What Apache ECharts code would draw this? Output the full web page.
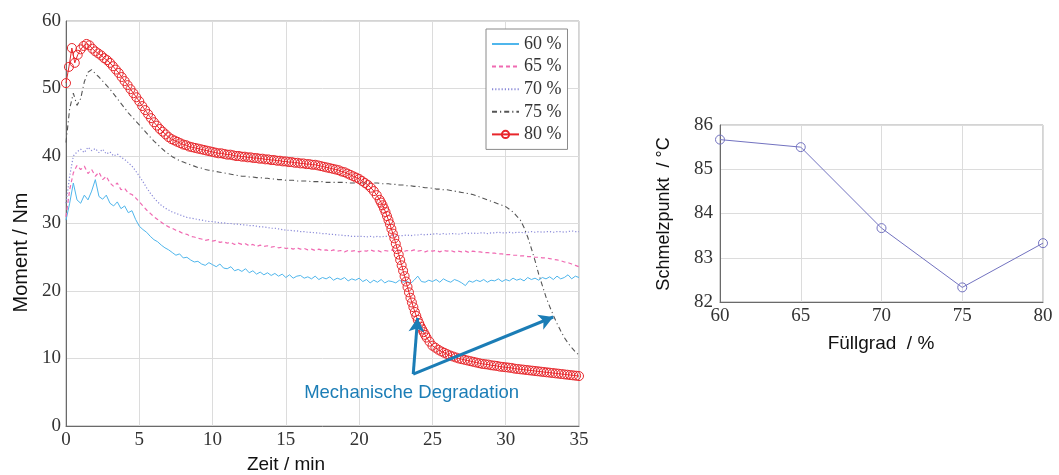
<!DOCTYPE html>
<html>
<head>
<meta charset="utf-8">
<script src="https://cdn.jsdelivr.net/npm/echarts@6/dist/echarts.min.js"></script>
<style>html,body{margin:0;padding:0;background:#fff}#c{width:1059px;height:475px}</style>
</head>
<body>
<div id="c"></div>
<script>
// ---------- Left chart: torque over time ----------
const timeThin = [0,0.25,0.5,0.75,1,1.25,1.5,1.75,2,2.25,2.5,2.75,3,3.25,3.5,3.75,4,4.25,4.5,4.75,5,5.25,5.5,5.75,6,6.25,6.5,6.75,7,7.25,7.5,7.75,8,8.25,8.5,8.75,9,9.25,9.5,9.75,10,10.25,10.5,10.75,11,11.25,11.5,11.75,12,12.25,12.5,12.75,13,13.25,13.5,13.75,14,14.25,14.5,14.75,15,15.25,15.5,15.75,16,16.25,16.5,16.75,17,17.25,17.5,17.75,18,18.25,18.5,18.75,19,19.25,19.5,19.75,20,20.25,20.5,20.75,21,21.25,21.5,21.75,22,22.25,22.5,22.75,23,23.25,23.5,23.75,24,24.25,24.5,24.75,25,25.25,25.5,25.75,26,26.25,26.5,26.75,27,27.25,27.5,27.75,28,28.25,28.5,28.75,29,29.25,29.5,29.75,30,30.25,30.5,30.75,31,31.25,31.5,31.75,32,32.25,32.5,32.75,33,33.25,33.5,33.75,34,34.25,34.5,34.75,35];

const torque60 = [30.5,33,36,33.5, 33,34.2,33.5,34.8, 36.5,34,33.6,34.2, 33,32.6,33.2,32.2, 32.6,31.6,31.9,30.6, 29.6,29.1,28.7,28.1, 27.6,27.3,26.8,26.4, 26.1,25.7,25.3,25.5, 24.9,25,24.6,24.3, 24.4,24,23.8,24.2, 23.9,23.6,24,23.4, 23.3,23.6,23,23.2, 22.9,23.3,22.7,23, 22.5,22.8,22.4,22.7, 22.3,22.6,22.2,22.5, 22,22.4,21.9,22.2, 22.3,21.9,22.1,21.8, 22.2,21.7,22,21.8, 22.1,21.6,21.9,21.7, 22,21.5,21.8,21.6, 21.9,21.4,21.7,21.2, 21.6,21.3,21.7,21.2, 21.5,21.4,21.2,21.6, 21.3,21.5,21.1,21.6, 22.2,21.4,21.3,21.6, 21.4,21.7,21.3,21.8, 21.5,21.3,21.7,21.5, 21.2,20.8,21.5,21.3, 21.6,21.4,21.7,21.3, 21.6,21.5,21.8,21.4, 21.7,21.5,21.9,21.6, 21.8,21.5,22,21.7, 21.9,21.6,22,21.8, 22.1,21.7,22.2,21.8, 22,22.4,21.8,22.2, 22];

const torque65 = [31,35,37.5,38.6, 38,38.5,37.4,38, 37,37.6,36.5,37, 36,35.5,36,35, 35.2,34.5,34.3,33.8, 33.2,32.6,32,31.5, 31,30.6,30.2,29.8, 29.5,29.3,29,28.8, 28.5,28.4,28.1,28, 27.8,27.7,27.5,27.6, 27.4,27.5,27.2,27.3, 27.1,27.2,26.9,27.1, 26.9,27,26.7,26.9, 26.6,26.8,26.6,26.7, 26.5,26.6,26.4,26.5, 26.3,26.4,26.2,26.4, 26.2,26.3,26.1,26.2, 26,26.2,26,26.1, 25.9,26.1,25.9,26, 25.8,26,25.9,26, 25.8,26,25.9,26.1, 25.9,26,25.8,26, 25.9,26.1,25.9,26, 25.8,26,25.9,26.1, 25.9,26,25.8,26, 25.9,26,25.8,26, 25.9,26,25.8,25.9, 25.8,25.9,25.7,25.9, 25.8,25.8,25.7,25.7, 25.6,25.6,25.5,25.5, 25.4,25.4,25.3,25.3, 25.2,25.2,25.1,25.1, 25,25,24.9,24.9, 24.8,24.7,24.6,24.5, 24.3,24.2,24,23.8, 23.6];

const torque70 = [33,37,40,40.6, 41,40.5,41.3,40.8, 41.1,40.5,41,40.3, 40.6,40,40.3,39.8, 39.5,39,38.5,37.8, 37,36.2,35.3,34.5, 33.8,33.2,32.7,32.3, 32,31.7,31.5,31.3, 31.1,30.9,30.8,30.7, 30.6,30.5,30.4,30.3, 30.3,30.2,30.1,30.1, 30,30,29.9,29.9, 29.8,29.8,29.7,29.7, 29.6,29.5,29.5,29.4, 29.3,29.3,29.2,29.1, 29,29,28.9,28.9, 28.8,28.8,28.7,28.7, 28.6,28.6,28.5,28.5, 28.4,28.4,28.3,28.3, 28.2,28.2,28.1,28.1, 28.1,28.1,28,28.1, 28,28.1,28,28.1, 28.1,28.2,28.1,28.2, 28.2,28.3,28.2,28.3, 28.3,28.4,28.3,28.4, 28.4,28.5,28.4,28.5, 28.4,28.5,28.5,28.4, 28.5,28.6,28.5,28.6, 28.5,28.6,28.6,28.5, 28.6,28.6,28.7,28.6, 28.6,28.7,28.6,28.7, 28.7,28.6,28.7,28.8, 28.7,28.8,28.7,28.8, 28.8,28.7,28.8,28.8, 28.7,28.8,28.9,28.8, 28.8];

const torque75 = [42,47,49.3,47.5, 48.5,51,52.4,52.8, 52.2,51.7,51.1,50.5, 49.9,49.2,48.5,47.8, 47.1,46.4,45.8,45.2, 44.6,44,43.4,42.8, 42.2,41.7,41.2,40.7, 40.3,39.9,39.6,39.3, 39.1,38.9,38.7,38.5, 38.3,38.2,38,37.9, 37.8,37.7,37.6,37.5, 37.4,37.3,37.2,37.1, 37,37,36.9,36.9, 36.8,36.8,36.7,36.7, 36.6,36.6,36.5,36.5, 36.4,36.4,36.4,36.3, 36.3,36.3,36.3,36.2, 36.2,36.2,36.2,36.1, 36.1,36.1,36.1,36.1, 36.1,36,36,36, 36,36,36,36, 36,36,35.9,35.9, 35.9,35.8,35.8,35.7, 35.7,35.6,35.6,35.5, 35.5,35.4,35.3,35.3, 35.2,35.1,35.1,35, 35,34.9,34.8,34.7, 34.6,34.5,34.4,34.3, 34.1,33.9,33.7,33.5, 33.3,33.1,32.9,32.7, 32.5,32.1,31.7,31.1, 30.5,29.4,28,26.3, 24.5,22.5,20.8,19.1, 17.7,16.4,15.2,14.1, 13.1,12.3,11.6,11, 10.5];

const timeRed = [0,0.2,0.4,0.6,0.8,1,1.2,1.4,1.6,1.8,2,2.2,2.4,2.6,2.8,3,3.2,3.4,3.6,3.8,4,4.2,4.4,4.6,4.8,5,5.2,5.4,5.6,5.8,6,6.2,6.4,6.6,6.8,7,7.2,7.4,7.6,7.8,8,8.2,8.4,8.6,8.8,9,9.2,9.4,9.6,9.8,10,10.2,10.4,10.6,10.8,11,11.2,11.4,11.6,11.8,12,12.2,12.4,12.6,12.8,13,13.2,13.4,13.6,13.8,14,14.2,14.4,14.6,14.8,15,15.2,15.4,15.6,15.8,16,16.2,16.4,16.6,16.8,17,17.2,17.4,17.6,17.8,18,18.2,18.4,18.6,18.8,19,19.2,19.4,19.6,19.8,20,20.2,20.4,20.6,20.8,21,21.2,21.4,
21.5,21.6,21.7,21.8,21.9,22,22.1,22.2,22.3,22.4,22.5,22.6,22.7,22.8,22.9,23,23.1,23.2,23.3,23.4,23.5,23.6,23.7,23.8,23.9,24,24.1,24.2,24.3,24.4,24.5,
24.6,24.8,25,25.2,25.4,25.6,25.8,26,26.2,26.4,26.6,26.8,27,27.2,27.4,27.6,27.8,28,28.2,28.4,28.6,28.8,29,29.2,29.4,29.6,29.8,30,30.2,30.4,30.6,30.8,31,31.2,31.4,31.6,31.8,32,32.2,32.4,32.6,32.8,33,33.2,33.4,33.6,33.8,34,34.2,34.4,34.6,34.8,35];

const torque80 = [50.8,53.2,56,53.8,55,55.8,56.3,56.6,56.4,55.9,55.5,55.2,54.9,54.5,54.2,53.8,53.3,52.8,52.3,51.7,51.1,50.5,49.9,49.3,48.7,48.1,47.4,46.8,46.2,45.6,45,44.5,44,43.6,43.2,42.8,42.5,42.3,42.1,41.9,41.7,41.6,41.4,41.3,41.2,41.1,41,40.9,40.8,40.7,40.6,40.5,40.4,40.4,40.3,40.2,40.2,40.1,40,40,39.9,39.9,39.8,39.8,39.7,39.7,39.6,39.6,39.5,39.5,39.4,39.4,39.3,39.3,39.2,39.2,39.1,39.1,39,39,38.9,38.9,38.8,38.8,38.7,38.7,38.6,38.5,38.4,38.3,38.2,38.1,38,37.9,37.7,37.6,37.4,37.2,37,36.8,36.6,36.3,36,35.7,35.3,34.8,34.2,33.5,
33.1,32.7,32.2,31.7,31.1,30.5,29.9,29.2,28.5,27.8,27,26.2,25.4,24.6,23.8,23,22.2,21.4,20.6,19.8,19,18.3,17.6,16.9,16.3,15.7,15.2,14.7,14.3,13.9,13.5,
13.1,12.5,11.9,11.6,11.3,11.05,10.85,10.65,10.45,10.3,10.15,10,9.9,9.8,9.7,9.6,9.5,9.4,9.3,9.2,9.15,9.1,9,8.95,8.9,8.8,8.75,8.7,8.65,8.6,8.5,8.45,8.4,8.35,8.3,8.25,8.2,8.15,8.1,8.05,8,7.95,7.9,7.85,7.8,7.75,7.7,7.65,7.6,7.55,7.5,7.45,7.4];

const seriesNames = ['60 %','65 %','70 %','75 %','80 %'];
const leftXTicks = {min:0, max:35, step:5};
const leftYTicks = {min:0, max:60, step:10};

// annotation anchors (data units of left chart)
const arrowOrigin = [23.69, 7.7];
const arrowTip1 = [23.99, 16.0];
const arrowTip2 = [33.24, 16.15];
const annotationPos = [23.58, 4.9];
const annotationText = 'Mechanische Degradation';

// ---------- Right chart: melting point vs. filling degree ----------
const fillDegree = [60,65,70,75,80];
const meltPoint = [85.67,85.5,83.67,82.33,83.33];
const rightXTicks = {min:60, max:80, step:5};
const rightYTicks = {min:82, max:86, step:1};

const SERIF = '"Liberation Serif","DejaVu Serif",serif';
const SANS = '"Liberation Sans",Arial,sans-serif';
const pair = (xs, ys) => xs.map((x,i) => [x, ys[i]]);

const axisCommon = {
  type:'value',
  axisLine:{show:true, onZero:false, lineStyle:{color:'#6a6a6a', width:1}},
  axisTick:{show:false},
  splitLine:{show:true, lineStyle:{color:'#dcdcdc', width:1}},
  axisLabel:{fontFamily:SERIF, fontSize:19, color:'#333'}
};

const hiddenSymbol = {opacity:0};

const chart = echarts.init(document.getElementById('c'));
chart.setOption({
  animation:false,
  backgroundColor:'#ffffff',
  grid:[
    {left:66, top:21, width:513, height:405, show:true, borderColor:'#a8a8a8', borderWidth:1},
    {left:720, top:125, width:323, height:177, show:true, borderColor:'#a8a8a8', borderWidth:1}
  ],
  xAxis:[
    Object.assign({}, axisCommon, {gridIndex:0, min:leftXTicks.min, max:leftXTicks.max, interval:leftXTicks.step,
      axisLabel:Object.assign({}, axisCommon.axisLabel, {margin:5})}),
    Object.assign({}, axisCommon, {gridIndex:1, min:rightXTicks.min, max:rightXTicks.max, interval:rightXTicks.step,
      axisLabel:Object.assign({}, axisCommon.axisLabel, {margin:5})})
  ],
  yAxis:[
    Object.assign({}, axisCommon, {gridIndex:0, min:leftYTicks.min, max:leftYTicks.max, interval:leftYTicks.step,
      axisLabel:Object.assign({}, axisCommon.axisLabel, {margin:5})}),
    Object.assign({}, axisCommon, {gridIndex:1, min:rightYTicks.min, max:rightYTicks.max, interval:rightYTicks.step,
      axisLabel:Object.assign({}, axisCommon.axisLabel, {margin:7})})
  ],
  legend:{
    data:[
      {name:seriesNames[0], itemStyle:hiddenSymbol},
      {name:seriesNames[1], itemStyle:hiddenSymbol},
      {name:seriesNames[2], itemStyle:hiddenSymbol},
      {name:seriesNames[3], itemStyle:hiddenSymbol},
      {name:seriesNames[4]}
    ],
    orient:'vertical',
    left:486, top:29,
    backgroundColor:'#fff',
    borderColor:'#8a8a8a', borderWidth:1,
    padding:[6,6,6,5],
    itemWidth:27, itemHeight:9, itemGap:4.6,
    selectedMode:false,
    textStyle:{fontFamily:SERIF, fontSize:18, color:'#333'}
  },
  graphic:[
    {type:'text', x:21, y:252.5, rotation:Math.PI/2,
      style:{text:'Moment / Nm', font:'20px '+SANS, fill:'#111', align:'center', verticalAlign:'middle'}},
    {type:'text', x:286, y:465,
      style:{text:'Zeit / min', font:'19px '+SANS, fill:'#111', align:'center', verticalAlign:'middle'}},
    {type:'text', x:664, y:214, rotation:Math.PI/2,
      style:{text:'Schmelzpunkt  / °C', font:'18px '+SANS, fill:'#111', align:'center', verticalAlign:'middle'}},
    {type:'text', x:881, y:344,
      style:{text:'Füllgrad  / %', font:'19px '+SANS, fill:'#111', align:'center', verticalAlign:'middle'}}
  ],
  series:[
    {name:seriesNames[0], type:'line', xAxisIndex:0, yAxisIndex:0, data:pair(timeThin, torque60),
      symbol:'none', lineStyle:{color:'#4fb6ec', width:1, type:'solid'}, itemStyle:{color:'#4fb6ec'}},
    {name:seriesNames[1], type:'line', xAxisIndex:0, yAxisIndex:0, data:pair(timeThin, torque65),
      symbol:'none', lineStyle:{color:'#f06ab2', width:1.2, type:[4,3]}, itemStyle:{color:'#f06ab2'}},
    {name:seriesNames[2], type:'line', xAxisIndex:0, yAxisIndex:0, data:pair(timeThin, torque70),
      symbol:'none', lineStyle:{color:'#8a8ad8', width:1.2, type:[1.2,2]}, itemStyle:{color:'#8a8ad8'}},
    {name:seriesNames[3], type:'line', xAxisIndex:0, yAxisIndex:0, data:pair(timeThin, torque75),
      symbol:'none', lineStyle:{color:'#555', width:1.1, type:[5,3,1.2,3]}, itemStyle:{color:'#555'}},
    {name:seriesNames[4], type:'line', xAxisIndex:0, yAxisIndex:0, data:pair(timeRed, torque80),
      symbol:'circle', symbolSize:9, showAllSymbol:true,
      lineStyle:{color:'#e8262b', width:1},
      itemStyle:{color:'rgba(255,255,255,0)', borderColor:'#e8262b', borderWidth:1},
      markLine:{silent:true, animation:false, symbol:['none','arrow'], symbolSize:[12,14],
        lineStyle:{color:'#1b7db6', width:3, type:'solid'}, label:{show:false},
        emphasis:{disabled:true},
        data:[[{coord:arrowOrigin},{coord:arrowTip1}],[{coord:arrowOrigin},{coord:arrowTip2}]]},
      markPoint:{silent:true, animation:false,
        data:[{coord:annotationPos, symbol:'circle', symbolSize:0,
          label:{show:true, position:'inside', formatter:annotationText, color:'#1b7db6', fontFamily:SANS, fontSize:18.5}}]}
    },
    {name:'Schmelzpunkt', type:'line', xAxisIndex:1, yAxisIndex:1, data:pair(fillDegree, meltPoint),
      symbol:'circle', symbolSize:9,
      lineStyle:{color:'#7272c0', width:1},
      itemStyle:{color:'rgba(255,255,255,0)', borderColor:'#7272c0', borderWidth:1}}
  ]
});
</script>
</body>
</html>
